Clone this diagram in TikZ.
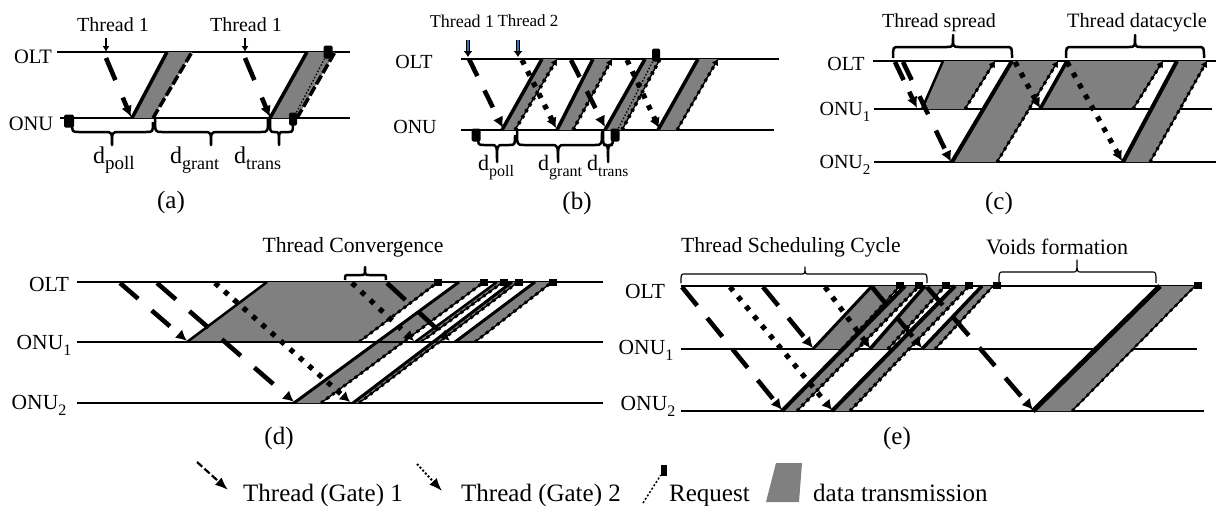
\documentclass[tikz,border=0pt]{standalone}
\usepackage{fontspec}
\setmainfont{Liberation Serif}
\usetikzlibrary{arrows.meta}
\definecolor{datagray}{HTML}{808080}
\definecolor{threadblue}{HTML}{3F6FA8}
\newcommand{\fs}[1]{\fontsize{#1}{#1}\selectfont}
% text with subscript: size, main, sub size, sub
\newcommand{\wsub}[4]{{\fs{#1}#2\raisebox{-0.28em}{\fs{#3}#4}}}
\tikzset{
  x=1pt,y=-1pt,
  lane/.style={line width=1.8,black},
  lbl/.style={inner sep=0,anchor=center},
  lblb/.style={inner sep=0,anchor=base west},
  gateone/.style={line width=4.6,dash pattern=on #1,-{Latex[length=11pt,width=11pt]}},
  gateone/.default={24pt off 18pt},
  gatetwo/.style={line width=5.2,dash pattern=on 5pt off 7.5pt,-{Latex[length=10pt,width=11pt]}},
  datafill/.style={fill=datagray,draw=none},
  leftedge/.style={line width=#1,black,line cap=butt},
  rightedge/.style={line width=#1,black,dash pattern=on 3pt off 4pt,preaction={draw,solid,line width=1.4}},
  rightsolid/.style={line width=#1,black,dash pattern=on 10pt off 3pt},
  toptip/.style={-{Latex[length=6pt,width=7pt]}},
  reqline/.style={line width=1.3,black,dash pattern=on 1.5pt off 2pt},
  blob/.style={fill=black,draw=none,rounded corners=1.5pt,minimum width=#1,inner sep=0,minimum height=13pt},
  sq/.style={fill=black,inner sep=0,minimum width=7.5pt,minimum height=7pt},
  tharrow/.style={line width=1.6,-{Latex[length=6pt,width=7pt]}},
  tharrowb/.style={line width=0.8,double=threadblue,double distance=2.4pt,-{Latex[length=6pt,width=9pt,fill=black]}},
  bracelin/.style={line width=#1,line join=round},
}
% \para{name}{botleft}{botright}{topleft}{topright}{ybot}{ytop}{left lw}{right style}
\newcommand{\para}[9]{%
  \coordinate (#1bl) at (#2,#6);\coordinate (#1br) at (#3,#6);
  \coordinate (#1tl) at (#4,#7);\coordinate (#1tr) at (#5,#7);
  \fill[datafill] (#1bl)--(#1br)--(#1tr)--(#1tl)--cycle;
  \draw[leftedge=#8] (#1bl)--(#1tl);
  \draw[#9] (#1br)--(#1tr);}
% \gate{name}{style}{x1,y1}{x2,y2}
\newcommand{\gate}[4]{%
  \coordinate (#1s) at (#3);\coordinate (#1e) at (#4);
  \draw[#2] (#1s)--(#1e);}
% \brc{name}{x1}{x2}{xm}{yend}{ybar}{ytip}{r}{lw}
\newcommand{\brc}[9]{%
  \coordinate (#1l) at (#2,#5);\coordinate (#1r) at (#3,#5);\coordinate (#1t) at (#4,#7);
  \draw[bracelin=#9] (#1l) .. controls (#2,#6) and (#2,#6) .. ({#2+#8},#6) -- ({#4-#8},#6)
   .. controls (#4,#6) and (#4,#6) .. (#1t) .. controls (#4,#6) and (#4,#6) .. ({#4+#8},#6)
   -- ({#3-#8},#6) .. controls (#3,#6) and (#3,#6) .. (#1r);}
\begin{document}
\begin{tikzpicture}
\useasboundingbox (0,0) rectangle (1216,506);
%%%%%%%%%% (a)
\draw[lane] (57,52) -- (350,52);
\draw[lane] (60,118) -- (350,118);
\node[lbl] (aolt) at (33,57) {\fs{20.5}OLT};
\node[lbl] (aonu) at (31,124) {\fs{20.5}ONU};
\node[lbl] (ath1) at (113,25) {\fs{20}Thread 1};
\node[lbl] (ath2) at (246,25) {\fs{20}Thread 1};
\coordinate (aa1) at (106,38);\coordinate (aa1e) at (106,52);
\coordinate (aa2) at (245,38);\coordinate (aa2e) at (245,52);
\draw[tharrow] (aa1)--(aa1e);
\draw[tharrow] (aa2)--(aa2e);
\para{ap}{132}{153}{167}{192}{118}{52}{3.5}{rightsolid=3.5}
\para{aq}{270}{297}{307}{335}{118}{52}{3.5}{rightsolid=3.5}
\node[blob=10pt] (ar1) at (69,121) {};
\node[blob=9pt] (ar2) at (328,52) {};
\node[blob=8pt] (ar3) at (293,119) {};
\draw[reqline] (ar3)--(ar2);
\gate{ag1}{gateone={24pt off 19pt}}{106,58}{131,117}
\gate{ag2}{gateone={24pt off 19pt}}{245,58}{270,117}
\brc{ab1}{72}{153}{112}{122}{132}{145}{7}{2.5}
\brc{ab2}{155}{268}{211}{118}{132}{145}{7}{2.5}
\brc{ab3}{270}{293}{279}{118}{132}{145}{4}{2.5}
\node[lblb] (adp) at (93,163) {\wsub{24}{d}{19}{poll}};
\node[lblb] (adg) at (170,163) {\wsub{24}{d}{18}{grant}};
\node[lblb] (adt) at (234,163) {\wsub{24}{d}{18}{trans}};
\node[lbl] (acapa) at (171,202) {\fs{25}(a)};
%%%%%%%%%% (b)
\draw[lane] (461,59) -- (779,59);
\draw[lane] (461,130) -- (774,130);
\node[lbl] (bolt) at (414,62) {\fs{20}OLT};
\node[lbl] (bonu) at (415,127) {\fs{20}ONU};
\node[lbl] (bth1) at (462,21) {\fs{18}Thread 1};
\node[lbl] (bth2) at (528,21) {\fs{17}Thread 2};
\coordinate (ba1) at (468,40);\coordinate (ba1e) at (468,57);
\coordinate (ba2) at (518,40);\coordinate (ba2e) at (518,57);
\draw[tharrowb] (ba1)--(ba1e);
\draw[tharrowb] (ba2)--(ba2e);
\para{bp1}{502}{515}{542}{557}{130}{59}{3.5}{rightedge=3.5,toptip}
\para{bp2}{557}{573}{593}{612}{130}{59}{3.5}{rightedge=3.5,toptip}
\para{bp3}{605}{622}{645}{660}{130}{59}{3.5}{rightedge=3.5}
\para{bp4}{658}{677}{698}{718}{130}{59}{3.5}{rightedge=3,toptip}
\node[blob=9pt] (br1) at (476,135) {};
\node[blob=9pt] (br2) at (615,135) {};
\node[blob=8pt] (br3) at (656,55) {};
\draw[reqline] (br2)--(br3);
\gate{bg1}{gateone={19pt off 16pt}}{469,59}{503,128}
\gate{bg2}{gateone={19pt off 16pt}}{571,60}{605,127}
\gate{bg3}{gatetwo}{522,60}{556,128}
\gate{bg4}{gatetwo}{627,60}{659,128}
\brc{bb1}{478}{515}{497}{135}{145}{162}{6}{2.5}
\brc{bb2}{517}{602}{558}{130}{145}{162}{7}{2.5}
\brc{bb3}{603}{613}{608}{130}{145}{162}{4}{2.5}
\node[lblb] (bdp) at (478,170) {\wsub{22}{d}{16}{poll}};
\node[lblb] (bdg) at (538,170) {\wsub{22}{d}{16}{grant}};
\node[lblb] (bdt) at (587,170) {\wsub{22}{d}{15.5}{trans}};
\node[lbl] (bcap) at (577,203) {\fs{25}(b)};
%%%%%%%%%% (c)
\draw[lane] (873,61) -- (1216,61);
\draw[lane] (874,109) -- (1212,109);
\draw[lane] (874,162) -- (1216,162);
\node[lbl] (colt) at (846,64) {\fs{20}OLT};
\node[lbl] (conu1) at (845,112) {\wsub{20}{ONU}{15}{1}};
\node[lbl] (conu2) at (845,165) {\wsub{20}{ONU}{15}{2}};
\node[lbl] (cth1) at (939,23) {\fs{20}Thread spread};
\node[lbl] (cth2) at (1137,23) {\fs{20.4}Thread datacycle};
\para{cp1}{922}{965}{943}{995}{109}{61}{2.5}{rightedge=3,toptip}
\para{cp2}{952}{997}{1012}{1058}{162}{61}{4}{rightedge=3,toptip}
\para{cp3}{1040}{1133}{1067}{1163}{109}{61}{3.5}{rightedge=3,toptip}
\para{cp4}{1123}{1150}{1177}{1207}{162}{61}{4}{rightedge=3,toptip}
\draw[lane] (1040,109) -- (1133,109);
\gate{cg1}{gateone={20pt off 13pt}}{895,62}{917,108}
\gate{cg2}{gateone={20pt off 18pt}}{903,62}{951,162}
\gate{cg3}{gatetwo}{1015,62}{1040,108}
\gate{cg4}{gatetwo}{1067,62}{1122,161}
\brc{cb1}{893}{1012}{953}{58}{47}{35}{6}{2.5}
\brc{cb2}{1066}{1204}{1135}{58}{47}{35}{6}{2.5}
\node[lbl] (ccap) at (999,203) {\fs{25}(c)};
%%%%%%%%%% (d)
\draw[lane] (77,282) -- (603,282);
\draw[lane] (77,342) -- (603,342);
\draw[lane] (77,403) -- (603,403);
\node[lbl] (dolt) at (49,284) {\fs{21.5}OLT};
\node[lbl] (donu1) at (44,345) {\wsub{21.5}{ONU}{16}{1}};
\node[lbl] (donu2) at (39,405) {\wsub{21.5}{ONU}{16}{2}};
\node[lbl] (dth) at (353,247) {\fs{21.7}Thread Convergence};
\para{dp1}{187}{359}{267}{438}{342}{282}{2.5}{rightedge=3}
\para{dp2}{294}{321}{459}{484}{403}{282}{3}{rightedge=3}
\para{dp3}{415}{421}{497}{503}{342}{282}{2.5}{rightedge=3}
\para{dp4}{353}{359}{512}{518}{403}{282}{3}{rightedge=3}
\para{dp5}{455}{475}{535}{552}{342}{282}{3}{rightedge=3}
\draw[lane] (187,342) -- (476,342);
\node[sq] (dr1) at (438,282) {};
\node[sq] (dr2) at (484,282) {};
\node[sq] (dr3) at (504,282) {};
\node[sq] (dr4) at (519,282) {};
\node[sq] (dr5) at (553,282) {};
\gate{dg1}{gateone={24pt off 18pt}}{120,283}{187,341}
\gate{dg2}{gateone={25pt off 18pt}}{157,283}{294,402}
\gate{dg3}{gatetwo}{215,283}{350,402}
\gate{dg4}{gatetwo}{352,283}{414,341}
\gate{dg5}{gateone={25pt off 18pt}}{387,283}{450,341}
\brc{db}{345}{386}{365}{280}{275}{267}{4}{2.5}
\node[lbl] (dcap) at (279,438) {\fs{25}(d)};
%%%%%%%%%% (e)
\draw[lane] (681,286) -- (1198,286);
\draw[lane] (681,349) -- (1197,349);
\draw[lane] (681,411) -- (1204,411);
\node[lbl] (eolt) at (645,291) {\fs{21.5}OLT};
\node[lbl] (eonu1) at (646,350) {\wsub{21.5}{ONU}{16}{1}};
\node[lbl] (eonu2) at (648,406) {\wsub{21.5}{ONU}{16}{2}};
\node[lbl] (eth1) at (791,247) {\fs{21.6}Thread Scheduling Cycle};
\node[lbl] (eth2) at (1057,247) {\fs{22}Voids formation};
\para{ep1}{813}{842}{872}{900}{349}{286}{3}{rightedge=3}
\para{ep2}{782}{797}{905}{919}{411}{286}{4}{rightedge=3.5}
\para{ep3}{870}{888}{925}{945}{349}{286}{3.5}{rightedge=3.5}
\para{ep4}{832}{850}{955}{969}{411}{286}{4}{rightedge=3.5}
\para{ep5}{922}{935}{982}{993}{349}{286}{3.5}{rightedge=3}
\para{ep6}{1033}{1072}{1160}{1195}{411}{286}{5}{rightedge=2.5}
\node[sq] (er1) at (900,285) {};
\node[sq] (er2) at (919,285) {};
\node[sq] (er3) at (946,285) {};
\node[sq] (er4) at (969,285) {};
\node[sq] (er5) at (997,285) {};
\node[sq] (er6) at (1198,285) {};
\gate{eg1}{gateone={24pt off 16pt}}{682,287}{782,410}
\gate{eg2}{gatetwo}{730,287}{832,410}
\gate{eg3}{gateone={24pt off 16pt}}{763,287}{813,348}
\gate{eg4}{gatetwo}{825,287}{870,348}
\gate{eg5}{gateone={24pt off 16pt}}{872,287}{922,348}
\gate{eg6}{gateone={24pt off 16pt}}{927,287}{1033,410}
\brc{eb1}{681}{927}{805}{283}{274}{267}{4}{1.2}
\brc{eb2}{999}{1156}{1077}{283}{272}{260}{4}{1.2}
\node[lbl] (ecap) at (897,438) {\fs{25}(e)};
%%%%%%%%%% legend
\gate{lg1}{line width=2.2,dash pattern=on 7pt off 3pt,-{Latex[length=13pt,width=10pt]}}{197,462}{228,490}
\node[lblb] (lt1) at (243,501) {\fs{25}Thread (Gate) 1};
\gate{lg2}{line width=2,dash pattern=on 2pt off 2pt,-{Latex[length=13pt,width=10pt]}}{417,464}{442,491}
\node[lblb] (lt2) at (461,501) {\fs{25}Thread (Gate) 2};
\coordinate (lr1) at (643,503);
\node[fill=black,inner sep=0,minimum width=6pt,minimum height=11pt] (lr2) at (664,470) {};
\draw[line width=1.5,dash pattern=on 2pt off 2pt] (lr1)--(lr2);
\node[lblb] (lt3) at (669,501) {\fs{25}Request};
\coordinate (ls1) at (776,463);\coordinate (ls2) at (802,463);\coordinate (ls3) at (799,502);\coordinate (ls4) at (766,502);
\fill[datafill] (ls1)--(ls2)--(ls3)--(ls4)--cycle;
\node[lblb] (lt4) at (813,501) {\fs{25}data transmission};
\end{tikzpicture}
\end{document}
